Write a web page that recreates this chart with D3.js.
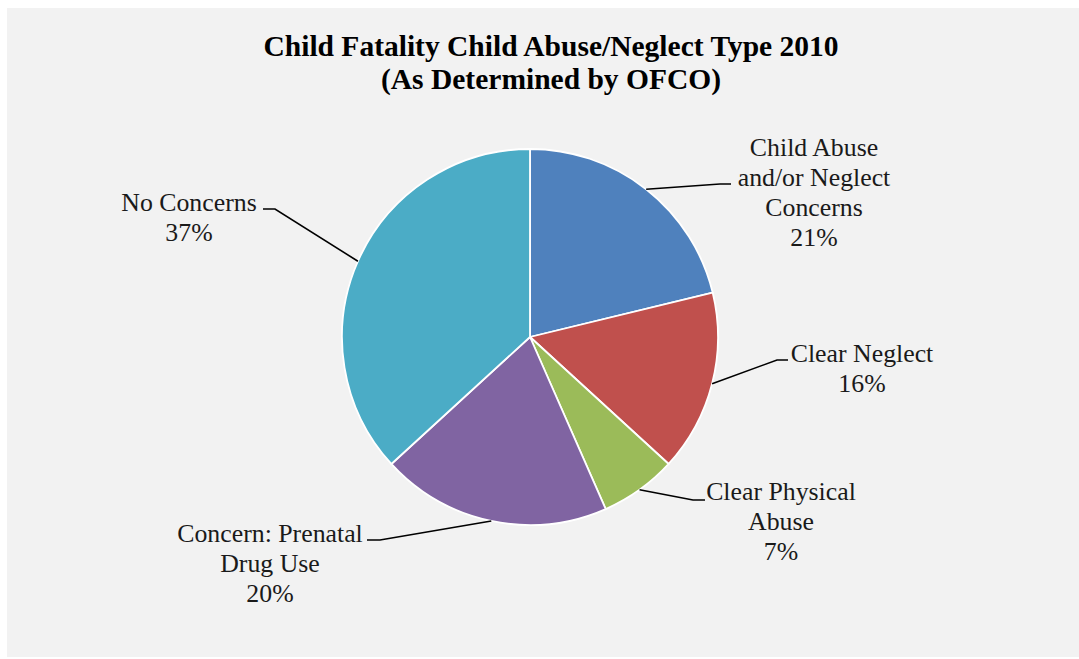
<!DOCTYPE html>
<html>
<head>
<meta charset="utf-8">
<script src="https://cdn.jsdelivr.net/npm/d3@7"></script>
<style>
    body { margin: 0; background: #ffffff; }
    svg { display: block; }
    .title { font-family: "Liberation Serif", "Times New Roman", serif; font-weight: bold; font-size: 29.5px; fill: #000; }
    .slice-label { font-family: "Liberation Serif", "Times New Roman", serif; font-size: 25.8px; fill: #1a1a1a; }
    .leader { fill: none; stroke: #000; stroke-width: 1.6px; }
</style>
</head>
<body>
<div id="chart"></div>
<script>
// chart data
const categories = ['Child Abuse and/or Neglect Concerns', 'Clear Neglect', 'Clear Physical Abuse', 'Concern: Prenatal Drug Use', 'No Concerns'];
const values = [21.2, 15.6, 6.6, 19.8, 36.8];
const labelLines = [
    ['Child Abuse', 'and/or Neglect', 'Concerns'],
    ['Clear Neglect'],
    ['Clear Physical', 'Abuse'],
    ['Concern: Prenatal', 'Drug Use'],
    ['No Concerns']
];
const titleLines = ['Child Fatality Child Abuse/Neglect Type 2010', '(As Determined by OFCO)'];

const width = 1079, height = 659;
const cx = 530, cy = 337, radius = 188;
const colors = d3.scaleOrdinal()
    .domain(categories)
    .range(['#4f81bd', '#c0504d', '#9bbb59', '#8064a2', '#4bacc6']);

// where each label block sits (x center, first baseline) and the leader elbow
const labelLayout = [
    { x: 814, y: 156, elbow: [720, 184], end: [731, 184] },
    { x: 862, y: 362, elbow: [777, 360], end: [788, 360] },
    { x: 781, y: 500, elbow: [693, 500], end: [705, 500] },
    { x: 270, y: 542, elbow: [380, 540], end: [367, 540] },
    { x: 189, y: 211, elbow: [275, 209], end: [263, 209] }
];
const lineHeight = 30;

let svg = d3.select('#chart').append('svg')
    .attr('width', width)
    .attr('height', height);

svg.append('rect')
    .attr('x', 7)
    .attr('y', 8)
    .attr('width', width - 7)
    .attr('height', height - 10)
    .attr('fill', '#f2f2f2');

// title
svg.append('text')
    .classed('title', true)
    .attr('text-anchor', 'middle')
    .selectAll('tspan')
    .data(titleLines)
    .enter()
    .append('tspan')
    .attr('x', 551)
    .attr('y', (d, i) => 56 + i * 33)
    .text(d => d);

let pie = d3.pie().sort(null).value(d => d.value);
let arc = d3.arc().innerRadius(0).outerRadius(radius);
let data = categories.map((c, i) => ({ name: c, value: values[i], lines: labelLines[i], layout: labelLayout[i] }));
let arcs = pie(data);
let total = d3.sum(values);
let pct = d3.format('.0%');

let pieLayer = svg.append('g')
    .attr('transform', `translate(${cx},${cy})`);

pieLayer.selectAll('path')
    .data(arcs)
    .enter()
    .append('path')
    .attr('d', arc)
    .attr('fill', d => colors(d.data.name))
    .attr('stroke', '#ffffff')
    .attr('stroke-width', 1.8)
    .attr('stroke-linejoin', 'round');

// leader lines from the slice edge to the label
svg.selectAll('.leader')
    .data(arcs)
    .enter()
    .append('polyline')
    .classed('leader', true)
    .attr('points', d => {
        let a = (d.startAngle + d.endAngle) / 2;
        let p = [cx + radius * Math.sin(a), cy - radius * Math.cos(a)];
        return [p, d.data.layout.elbow, d.data.layout.end].map(q => q.join(',')).join(' ');
    });

// labels
let labels = svg.selectAll('.slice-label')
    .data(arcs)
    .enter()
    .append('text')
    .classed('slice-label', true)
    .attr('text-anchor', 'middle');

labels.selectAll('tspan')
    .data(d => d.data.lines.concat([pct(d.data.value / total)]).map(t => ({ t: t, layout: d.data.layout })))
    .enter()
    .append('tspan')
    .attr('x', d => d.layout.x)
    .attr('y', (d, i) => d.layout.y + i * lineHeight)
    .text(d => d.t);
</script>
</body>
</html>
